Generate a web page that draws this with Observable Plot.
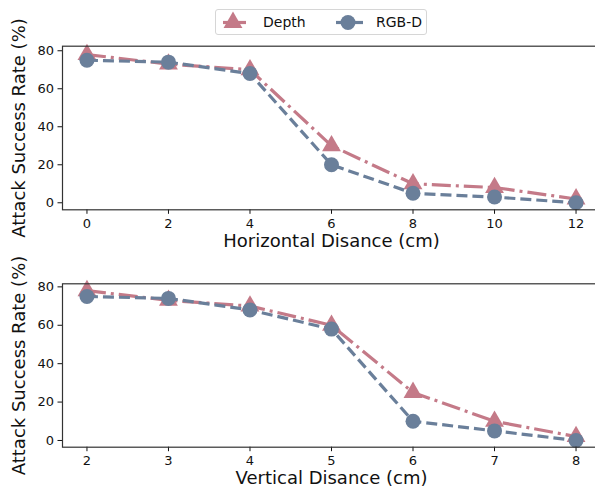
<!DOCTYPE html>
<html>
<head>
<meta charset="utf-8">
<script src="https://cdn.jsdelivr.net/npm/d3@7"></script>
<script src="https://cdn.jsdelivr.net/npm/@observablehq/plot@0.6"></script>
<style>
  html, body { margin: 0; padding: 0; background: #fff; overflow: hidden; }
  #wrap { position: relative; width: 595px; height: 489px; overflow: hidden; font-family: "DejaVu Sans", sans-serif; }
  #legend { position: absolute; left: 215px; top: 9px; width: 212px; height: 26px; border: 1px solid #d6d6d6; border-radius: 3px; box-sizing: border-box; z-index: 2; }
  #legend svg { position: absolute; left: 0; top: 0; }
  .panel { position: absolute; left: 0; }
  .panel svg { max-width: none !important; }
</style>
</head>
<body>
<div id="wrap">
  <div id="legend"></div>
  <div id="top" class="panel" style="top:0px"></div>
  <div id="bottom" class="panel" style="top:240px"></div>
</div>
<script>
// Data
const seriesNames = ["Depth", "RGB-D"];
const horizontalX = [0, 2, 4, 6, 8, 10, 12];
const horizontalDepth = [78, 73, 70, 30, 10, 8, 2];
const horizontalRGBD = [75, 74, 68, 20, 5, 3, 0];
const verticalX = [2, 3, 4, 5, 6, 7, 8];
const verticalDepth = [78, 73, 70, 60, 25, 10, 2];
const verticalRGBD = [75, 74, 68, 58, 10, 5, 0];
const yTicks = [0, 20, 40, 60, 80];
const yLabel = "Attack Success Rate (%)";
const xLabelTop = "Horizontal Disance (cm)";
const xLabelBottom = "Vertical Disance (cm)";

const colors = {"Depth": "#c47a88", "RGB-D": "#6a7f9a"};
const dashes = {"Depth": "19,5,3,5", "RGB-D": "11,5"};
const symbols = {"Depth": "triangle", "RGB-D": "circle"};
const radii = {"Depth": 7, "RGB-D": 7.5};

function toRows(xs, depth, rgbd) {
  const rows = [];
  xs.forEach((x, i) => rows.push({x, y: depth[i], s: "Depth"}));
  xs.forEach((x, i) => rows.push({x, y: rgbd[i], s: "RGB-D"}));
  return rows;
}

function panel(rows, xDomain, xTicks, yDomain, xLabel, marginTop, marginBottom, height) {
  const marks = [];
  for (const s of seriesNames) {
    const d = rows.filter(r => r.s === s);
    marks.push(Plot.line(d, {x: "x", y: "y", stroke: colors[s], strokeWidth: 3.2, strokeDasharray: dashes[s], strokeLinecap: "butt"}));
    marks.push(Plot.dot(d, {x: "x", y: "y", fill: colors[s], r: radii[s], symbol: symbols[s], stroke: "none"}));
  }
  marks.push(Plot.axisX({ticks: xTicks, tickSize: 4.5, tickPadding: 4, fontSize: 13, label: null, tickFormat: d => String(d)}));
  marks.push(Plot.axisY({ticks: yTicks, tickSize: 4.5, tickPadding: 4, fontSize: 13, label: null}));
  marks.push(Plot.frame({stroke: "#333", strokeWidth: 1.2}));
  marks.push(Plot.text([xLabel], {text: d => d, frameAnchor: "bottom", textAnchor: "middle", dy: 37, fontSize: 18, fill: "#111"}));
  marks.push(Plot.text([yLabel], {text: d => d, frameAnchor: "left", textAnchor: "middle", lineAnchor: "middle", rotate: -90, dx: -43, fontSize: 18, fill: "#111"}));
  return Plot.plot({
    width: 600,
    height,
    marginLeft: 62,
    marginRight: 0,
    marginTop,
    marginBottom,
    style: {fontFamily: "DejaVu Sans, sans-serif", color: "#111", background: "transparent", overflow: "visible", maxWidth: "none"},
    x: {domain: xDomain},
    y: {domain: yDomain},
    marks
  });
}

document.getElementById("top").appendChild(
  panel(toRows(horizontalX, horizontalDepth, horizontalRGBD), [-0.6, 12.6], horizontalX, [-3.7, 82.4], xLabelTop, 45.7, 260 - 209.3, 260)
);
document.getElementById("bottom").appendChild(
  panel(toRows(verticalX, verticalDepth, verticalRGBD), [1.7, 8.3], verticalX, [-3.5, 81.6], xLabelBottom, 283.3 - 240, 249 - (446.7 - 240), 249)
);

// Legend
const legendData = [
  {s: "Depth", x0: 7, x1: 30, cx: 17, tx: 47},
  {s: "RGB-D", x0: 120, x1: 147, cx: 132, tx: 160}
];
const lg = d3.select("#legend").append("svg").attr("width", 212).attr("height", 26);
for (const d of legendData) {
  lg.append("line").attr("x1", d.x0).attr("x2", d.x1).attr("y1", 12.5).attr("y2", 12.5)
    .attr("stroke", colors[d.s]).attr("stroke-width", 3.2);
  lg.append("path").attr("d", d3.symbol(symbols[d.s] === "triangle" ? d3.symbolTriangle : d3.symbolCircle, Math.PI * radii[d.s] ** 2)())
    .attr("transform", `translate(${d.cx},12.5)`).attr("fill", colors[d.s]);
  lg.append("text").attr("x", d.tx).attr("y", 12.5).attr("dy", "0.35em")
    .attr("font-size", 14).attr("font-family", "DejaVu Sans, sans-serif").attr("fill", "#111").text(d.s);
}
</script>
</body>
</html>
